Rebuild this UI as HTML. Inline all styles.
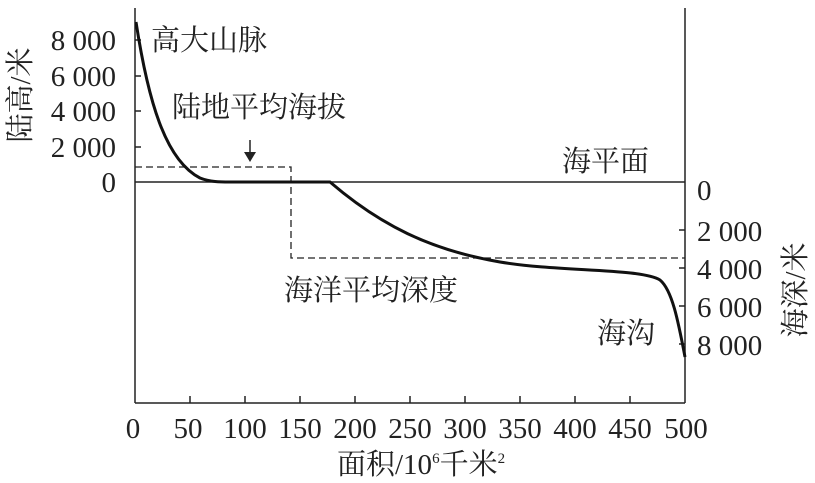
<!DOCTYPE html><html><head><meta charset="utf-8"><style>body{margin:0;background:#fff}svg{display:block}text{font-family:"Liberation Serif","Noto Serif CJK SC",serif;fill:#222}</style></head><body>
<svg width="815" height="483" viewBox="0 0 815 483">
<g stroke="#222" stroke-width="1.5" fill="none">
<line x1="135" y1="8" x2="135" y2="403"/>
<line x1="685" y1="8" x2="685" y2="403"/>
<line x1="135" y1="403" x2="685" y2="403"/>
<line x1="135" y1="182" x2="685" y2="182"/>
<path d="M135 40h6M135 76h6M135 111h6M135 147h6M685 230h-6M685 268h-6M685 306h-6M685 344h-6"/>
<path d="M190 403v-7M245 403v-7M300 403v-7M355 403v-7M410 403v-7M465 403v-7M520 403v-7M575 403v-7M630 403v-7"/>
</g>
<g stroke="#222" stroke-width="1.3" fill="none" stroke-dasharray="7,4">
<path d="M135 167H291V258H685"/>
</g>
<path d="M136 22C148 100 165 160 200 178C210 182 220 182 230 182L330 182C380 225 430 250 500 262C560 272 640 268 660 280C672 290 678 320 685 357" stroke="#111" stroke-width="3" fill="none"/>
<path d="M250 140v16" stroke="#222" stroke-width="1.5"/><path d="M244 152l6 10 6-10z" fill="#222"/>
<g font-size="29">
<text x="116" y="50" text-anchor="end">8 000</text>
<text x="116" y="86" text-anchor="end">6 000</text>
<text x="116" y="121" text-anchor="end">4 000</text>
<text x="116" y="157" text-anchor="end">2 000</text>
<text x="116" y="192" text-anchor="end">0</text>
<text x="697" y="200">0</text>
<text x="697" y="241">2 000</text>
<text x="697" y="279">4 000</text>
<text x="697" y="317">6 000</text>
<text x="697" y="355">8 000</text>
<g text-anchor="middle">
<text x="133" y="438">0</text><text x="188" y="438">50</text><text x="245" y="438">100</text><text x="300" y="438">150</text><text x="355" y="438">200</text><text x="410" y="438">250</text><text x="465" y="438">300</text><text x="520" y="438">350</text><text x="575" y="438">400</text><text x="630" y="438">450</text><text x="686" y="438">500</text>
</g>
</g>
<g font-size="29">
<text x="151" y="50">高大山脉</text>
<text x="172" y="117">陆地平均海拔</text>
<text x="562" y="171">海平面</text>
<text x="284" y="300">海洋平均深度</text>
<text x="597" y="343">海沟</text>
<text x="337" y="474">面积/10<tspan font-size="15" dy="-11">6</tspan><tspan dy="11">千米</tspan><tspan font-size="15" dy="-11">2</tspan></text>
<text transform="translate(30,95) rotate(-90)" text-anchor="middle">陆高/米</text>
<text transform="translate(805,290) rotate(-90)" text-anchor="middle">海深/米</text>
</g>
</svg></body></html>
